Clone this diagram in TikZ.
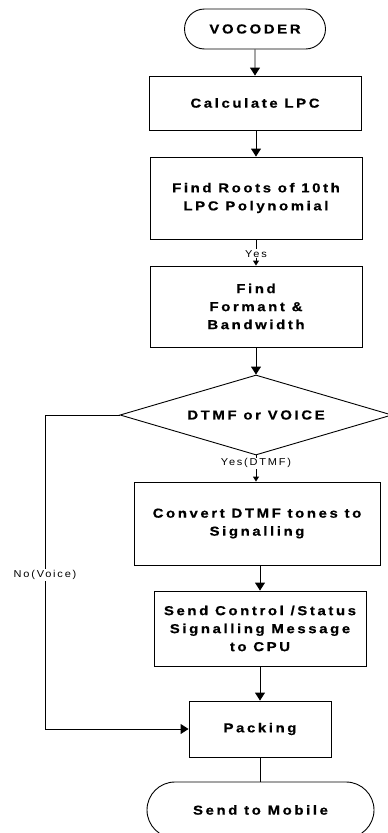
\documentclass[tikz,border=0pt]{standalone}
\usepackage{fontspec}
\setmainfont{Liberation Sans}
\newfontfamily\boxfont{Liberation Sans}[LetterSpace=20,FakeStretch=1.15,BoldFeatures={FakeBold=0.6}]
\newfontfamily\labfont{Liberation Sans}[LetterSpace=18,FakeStretch=1.1]
\usetikzlibrary{shapes.geometric,shapes.misc,arrows.meta}
\begin{document}
\begin{tikzpicture}[x=1pt,y=-1pt,
  every node/.style={inner sep=0pt, align=center},
  box/.style={draw, line width=0.9pt, font=\boxfont\bfseries\fontsize{13}{18}\selectfont},
  term/.style={box, rounded rectangle},
  dec/.style={box, diamond, aspect=3.4},
  lab/.style={fill=white, inner sep=1pt, font=\labfont\fontsize{10}{11}\selectfont},
  flow/.style={line width=0.9pt, -{Triangle[length=8pt,width=10pt]}},
  smallflow/.style={line width=0.9pt, -{Triangle[length=5pt,width=6pt]}},
  plain/.style={line width=0.9pt}]
\useasboundingbox (0,0) rectangle (388,833);
\node[term, minimum width=141pt, minimum height=40pt] (voc) at (255,29) {VOCODER};
\node[box, minimum width=212pt, minimum height=54pt] (calc) at (255,103) {Calculate LPC};
\node[box, minimum width=212pt, minimum height=82pt] (roots) at (256,198) {Find Roots of 10th\\LPC Polynomial};
\node[box, minimum width=212pt, minimum height=81pt] (form) at (256,306.5) {Find\\Formant \&\\Bandwidth};
\node[dec, minimum width=272pt, minimum height=80pt] (dtmf) at (256,415) {DTMF or VOICE};
\node[box, minimum width=246pt, minimum height=83pt] (conv) at (257,523.5) {Convert DTMF tones to\\Signalling};
\node[box, minimum width=212pt, minimum height=75pt] (send) at (260,628.5) {Send Control /Status\\Signalling Message\\to CPU};
\node[box, minimum width=142pt, minimum height=56pt] (pack) at (260,729) {Packing};
\node[term, minimum width=227pt, minimum height=56pt] (mob) at (260.5,810) {Send to Mobile};
\coordinate (nvtop) at (45,415);
\draw[flow] (voc) -- (calc);
\draw[flow] (calc.south -| roots.north) -- (roots.north);
\draw[smallflow] (roots) -- node[lab, pos=0.55] (yes) {Yes} (form);
\draw[flow] (form) -- (dtmf);
\draw[smallflow] (dtmf.south) -- node[lab, pos=0.3] (yesd) {Yes(DTMF)} (dtmf.south |- conv.north);
\draw[flow] (conv.south -| send.north) -- (send.north);
\draw[flow] (send) -- (pack);
\draw[plain] (pack) -- (pack |- mob.north);
\draw[flow] (dtmf.west) -- (nvtop) |- node[lab, pos=0.255] (novoice) {No(Voice)} (pack.west);
\end{tikzpicture}
\end{document}
